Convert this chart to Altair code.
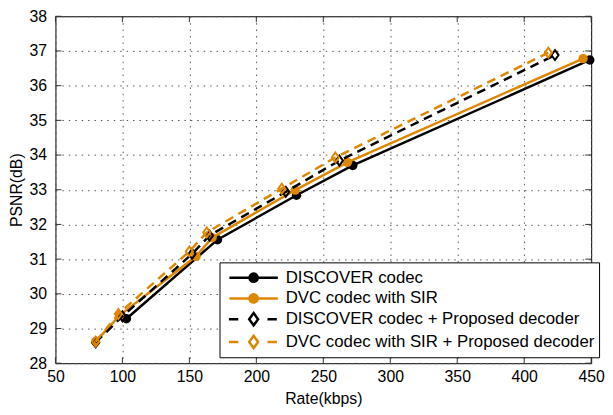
import altair as alt
import pandas as pd

series_names = [
    "DISCOVER codec",
    "DVC codec with SIR",
    "DISCOVER codec + Proposed decoder",
    "DVC codec with SIR + Proposed decoder",
]

discover_rate = [103, 171, 230, 272, 449]
discover_psnr = [29.28, 31.56, 32.84, 33.70, 36.74]

dvc_rate = [80, 98, 155, 167, 229, 268, 444]
dvc_psnr = [28.62, 29.38, 31.08, 31.62, 32.99, 33.79, 36.78]

discover_prop_rate = [80, 100, 152, 165, 222, 262, 423]
discover_prop_psnr = [28.60, 29.35, 31.15, 31.68, 32.94, 33.84, 36.88]

dvc_prop_rate = [80, 97, 150, 163, 219, 259, 418]
dvc_prop_psnr = [28.62, 29.42, 31.22, 31.77, 33.03, 33.93, 36.95]

x_ticks = [50, 100, 150, 200, 250, 300, 350, 400, 450]
y_ticks = [28, 29, 30, 31, 32, 33, 34, 35, 36, 37, 38]

BLACK = "#000000"
ORANGE = "#DF8600"
FONT = "Liberation Sans"
W, H = 542, 351

xs = alt.Scale(domain=[50, 450], nice=False, zero=False)
ys = alt.Scale(domain=[28, 38], nice=False, zero=False)

x_axis = alt.Axis(values=x_ticks, title="Rate(kbps)", grid=True, gridDash=[1.5, 5],
                  gridColor="#555555", gridWidth=1, ticks=False, domain=False,
                  labelFont=FONT, labelFontSize=16, labelColor="black", labelPadding=6,
                  titleFont=FONT, titleFontSize=16, titleFontWeight="normal",
                  titleColor="black", titlePadding=6, labelFlush=False)
y_axis = alt.Axis(values=y_ticks, title="PSNR(dB)", grid=True, gridDash=[1.5, 5],
                  gridColor="#555555", gridWidth=1, ticks=False, domain=False,
                  labelFont=FONT, labelFontSize=16, labelColor="black", labelPadding=9,
                  titleFont=FONT, titleFontSize=16, titleFontWeight="normal",
                  titleColor="black", titlePadding=5, labelFlush=False)


def X(field="rate"):
    return alt.X(f"{field}:Q", scale=xs, axis=x_axis)


def Y(field="psnr"):
    return alt.Y(f"{field}:Q", scale=ys, axis=y_axis)


DIAMOND = "M0,-1.25L0.9,0L0,1.25L-0.9,0Z"

series_data = [
    (series_names[0], discover_rate, discover_psnr, BLACK, None, "circle", True),
    (series_names[1], dvc_rate, dvc_psnr, ORANGE, None, "circle", True),
    (series_names[2], discover_prop_rate, discover_prop_psnr, BLACK, [9, 6], DIAMOND, False),
    (series_names[3], dvc_prop_rate, dvc_prop_psnr, ORANGE, [9, 6], DIAMOND, False),
]

layers = []
for name, rates, psnrs, col, dash, shape, filled in series_data:
    df = pd.DataFrame({"rate": rates, "psnr": psnrs, "series": name})
    line_kw = dict(color=col, strokeWidth=2.5)
    if dash:
        line_kw["strokeDash"] = dash
    layers.append(alt.Chart(df).mark_line(**line_kw).encode(x=X(), y=Y()))
    if filled:
        pt = alt.Chart(df).mark_point(shape=shape, filled=True, size=90, color=col, opacity=1)
    else:
        pt = alt.Chart(df).mark_point(shape=shape, filled=False, size=64, strokeWidth=2,
                                      color=col, opacity=1)
    layers.append(pt.encode(x=X(), y=Y()))

# inward tick marks
xt = pd.DataFrame({"rate": x_ticks})
yt = pd.DataFrame({"psnr": y_ticks})
tick_color = "#333333"
layers.append(alt.Chart(xt).mark_rule(color=tick_color, strokeWidth=1).encode(
    x=X(), y=alt.value(H), y2=alt.value(H - 6)))
layers.append(alt.Chart(xt).mark_rule(color=tick_color, strokeWidth=1).encode(
    x=X(), y=alt.value(0), y2=alt.value(6)))
layers.append(alt.Chart(yt).mark_rule(color=tick_color, strokeWidth=1).encode(
    y=Y(), x=alt.value(0), x2=alt.value(6)))
layers.append(alt.Chart(yt).mark_rule(color=tick_color, strokeWidth=1).encode(
    y=Y(), x=alt.value(W), x2=alt.value(W - 6)))


# legend carrier (no drawable points: null positions are filtered)
def circ(r):
    return f"M{-r},0A{r},{r} 0 1,0 {r},0A{r},{r} 0 1,0 {-r},0"


solid_sym = "M-2.45,0L2.45,0" + "".join(circ(r) for r in [0.1, 0.2, 0.3, 0.42])
dashed_sym = "M-2.5,0L-1.55,0M1.4,0L2.35,0M0,-0.62L0.45,0L0,0.62L-0.45,0Z"

carrier = pd.DataFrame({"series": series_names, "rate": [None] * 4, "psnr": [None] * 4})
leg = alt.Legend(title=None, orient="none", legendX=166, legendY=249, padding=4,
                 strokeColor="black", fillColor="white",
                 labelFont=FONT, labelFontSize=17, labelColor="black", labelLimit=500,
                 symbolOffset=19, labelOffset=21, rowPadding=0, symbolStrokeWidth=2.5,
                 symbolSize=400, symbolFillColor="transparent")
layers.append(alt.Chart(carrier).mark_point(filled=False, size=400, strokeWidth=2.5, opacity=1).encode(
    x=X(), y=Y(),
    color=alt.Color("series:N", scale=alt.Scale(domain=series_names,
                                                range=[BLACK, ORANGE, BLACK, ORANGE]),
                    legend=leg, sort=series_names),
    shape=alt.Shape("series:N", scale=alt.Scale(domain=series_names,
                                                range=[solid_sym, solid_sym, dashed_sym, dashed_sym]),
                    legend=leg, sort=series_names),
))

chart = alt.layer(*layers).properties(
    width=W, height=H,
    padding={"left": 48, "top": 6, "right": 14, "bottom": 46},
    autosize=alt.AutoSizeParams(type="none"),
    background="white",
).configure_view(stroke="black", strokeWidth=1)

chart.save("out.html", embed_options={"renderer": "svg", "actions": False})
